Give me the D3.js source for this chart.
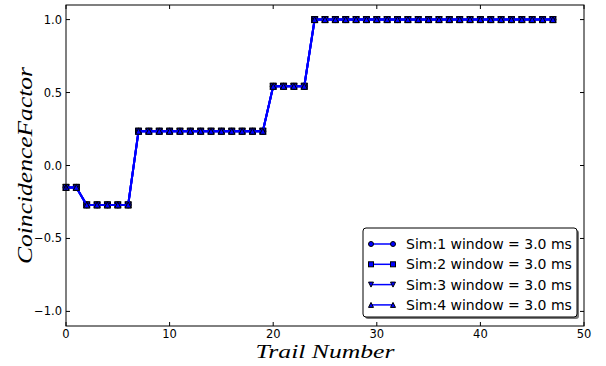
<!DOCTYPE html>
<html><head><meta charset="utf-8">
<script src="https://cdn.jsdelivr.net/npm/d3@7"></script>
<style>body{margin:0;background:#fff}svg{display:block}</style>
</head><body>
<script>
const trials = d3.range(0, 48);
const coincidence = [-0.15,-0.15,-0.27,-0.27,-0.27,-0.27,-0.27,
  0.235,0.235,0.235,0.235,0.235,0.235,0.235,0.235,0.235,0.235,0.235,0.235,0.235,
  0.543,0.543,0.543,0.543,
  1,1,1,1,1,1,1,1,1,1,1,1,1,1,1,1,1,1,1,1,1,1,1,1];
const seriesNames = ["Sim:1 window = 3.0 ms","Sim:2 window = 3.0 ms","Sim:3 window = 3.0 ms","Sim:4 window = 3.0 ms"];
const seriesMarkers = ["circle","square","tridown","triup"];
const xTicks = [0,10,20,30,40,50];
const yTicks = [-1.0,-0.5,0.0,0.5,1.0];

const W=606,H=366;
const m={l:66,r:22,t:5,b:40};
const svg=d3.select("body").append("svg").attr("width",W).attr("height",H);
const x=d3.scaleLinear().domain([0,50]).range([m.l,W-m.r]);
const y=d3.scaleLinear().domain([-1.1,1.1]).range([H-m.b,m.t]);

const fmt=d=>d3.format(".1f")(d).replace("-","\u2212");
const g=svg.append("g");
const tickLen=4;
xTicks.forEach(t=>{
  g.append("line").attr("x1",x(t)).attr("x2",x(t)).attr("y1",y(-1.1)).attr("y2",y(-1.1)-tickLen).attr("stroke","#000");
  g.append("line").attr("x1",x(t)).attr("x2",x(t)).attr("y1",y(1.1)).attr("y2",y(1.1)+tickLen).attr("stroke","#000");
  g.append("text").attr("x",x(t)).attr("y",y(-1.1)+11.5).attr("text-anchor","middle")
   .attr("font-family","DejaVu Sans").attr("font-size",11.5).text(t);
});
yTicks.forEach(t=>{
  g.append("line").attr("x1",x(0)).attr("x2",x(0)+tickLen).attr("y1",y(t)).attr("y2",y(t)).attr("stroke","#000");
  g.append("line").attr("x1",x(50)).attr("x2",x(50)-tickLen).attr("y1",y(t)).attr("y2",y(t)).attr("stroke","#000");
  g.append("text").attr("x",x(0)-4).attr("y",y(t)+4).attr("text-anchor","end")
   .attr("font-family","DejaVu Sans").attr("font-size",11.5).text(fmt(t));
});

const line=d3.line().x((d,i)=>x(trials[i])).y(d=>y(d));
function marker(sel,type,cx,cy,s){
  if(type==="circle") sel.append("circle").attr("cx",cx).attr("cy",cy).attr("r",s);
  else if(type==="square") sel.append("rect").attr("x",cx-s).attr("y",cy-s).attr("width",2*s).attr("height",2*s);
  else if(type==="tridown") sel.append("path").attr("d",`M${cx-s},${cy-s}L${cx+s},${cy-s}L${cx},${cy+s}Z`);
  else sel.append("path").attr("d",`M${cx-s},${cy+s}L${cx+s},${cy+s}L${cx},${cy-s}Z`);
}
seriesNames.forEach((n,k)=>{
  const sg=svg.append("g");
  sg.append("path").datum(coincidence).attr("d",line).attr("fill","none").attr("stroke","#0000ff").attr("stroke-width",2);
  const mg=sg.append("g").attr("fill","#0000ff").attr("stroke","#000").attr("stroke-width",1);
  coincidence.forEach((v,i)=>marker(mg,seriesMarkers[k],x(trials[i]),y(v),3));
});

svg.append("rect").attr("x",x(0)).attr("y",y(1.1)).attr("width",x(50)-x(0)).attr("height",y(-1.1)-y(1.1))
  .attr("fill","none").attr("stroke","#000").attr("stroke-width",1);

// legend
const lx=363,ly=228,lw=214,lh=89;
svg.append("rect").attr("x",lx+2).attr("y",ly+2).attr("width",lw).attr("height",lh).attr("rx",3).attr("fill","#777");
svg.append("rect").attr("x",lx).attr("y",ly).attr("width",lw).attr("height",lh).attr("rx",3).attr("fill","#fff").attr("stroke","#000").attr("stroke-width",1);
seriesNames.forEach((n,k)=>{
  const yy=ly+16+k*20.3;
  svg.append("line").attr("x1",lx+8).attr("x2",lx+30).attr("y1",yy).attr("y2",yy).attr("stroke","#0000ff").attr("stroke-width",1.5);
  const mg=svg.append("g").attr("fill","#0000ff").attr("stroke","#000").attr("stroke-width",1);
  marker(mg,seriesMarkers[k],lx+8,yy,2.5);
  marker(mg,seriesMarkers[k],lx+30,yy,2.5);
  svg.append("text").attr("x",lx+43).attr("y",yy+5).attr("font-family","DejaVu Sans").attr("font-size",14).text(n);
});

// axis labels
svg.append("text").attr("x",(x(0)+x(50))/2).attr("y",358).attr("text-anchor","middle")
  .attr("font-family","Liberation Serif").attr("font-style","italic").attr("font-size",19.5)
  .attr("textLength",139).attr("lengthAdjust","spacingAndGlyphs").text("Trail Number");
svg.append("text").attr("transform",`translate(32,${(y(1.1)+y(-1.1))/2}) rotate(-90)`).attr("text-anchor","middle")
  .attr("font-family","Liberation Serif").attr("font-style","italic").attr("font-size",20)
  .attr("textLength",197).attr("lengthAdjust","spacingAndGlyphs").text("CoincidenceFactor");
</script>
</body></html>
